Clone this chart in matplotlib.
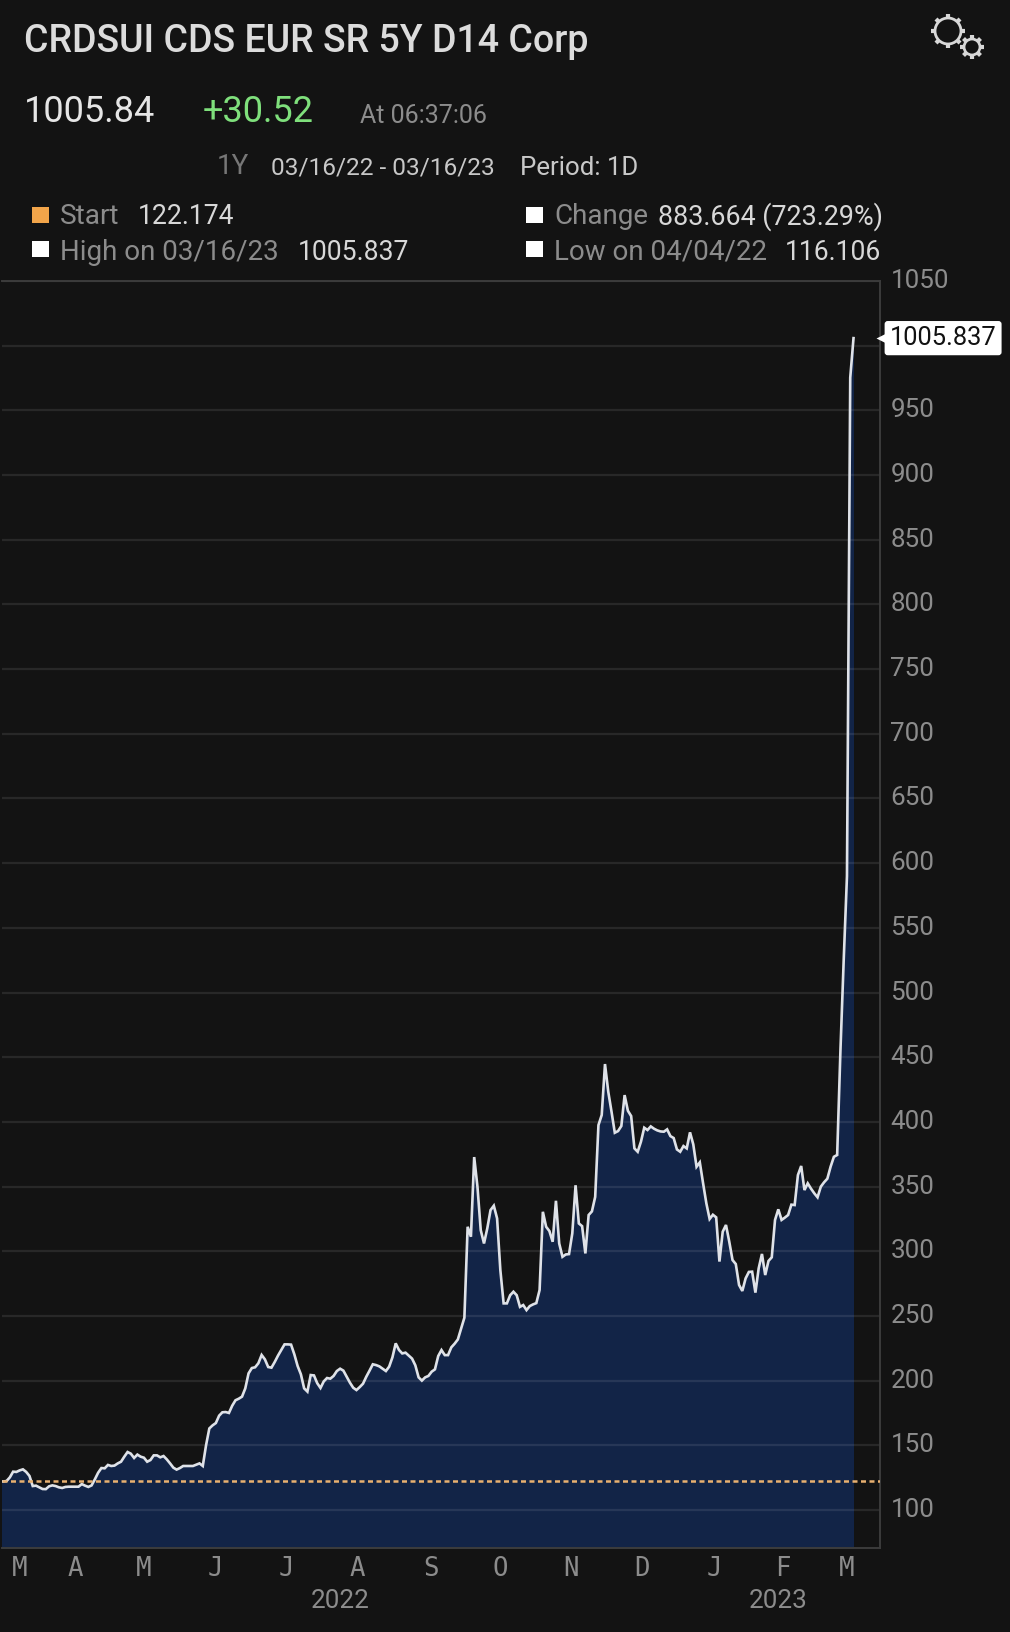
import numpy as np
import matplotlib
matplotlib.use('Agg')
import matplotlib.pyplot as plt
from matplotlib.patches import Circle, Rectangle
from matplotlib.transforms import ScaledTranslation

plt.rcParams['font.family'] = ['Roboto', 'DejaVu Sans']

# CDS spread, one value per trading session, 03/16/22 - 03/16/23
spread = [
    122.2, 122.0, 122.4, 125.2, 129.6, 129.4, 130.6, 131.4, 129.4, 126.3,
    118.5, 118.8, 117.5, 116.2, 116.1, 118.3, 119.0, 118.5, 117.5, 117.0,
    117.8, 118.0, 118.0, 118.0, 118.0, 120.0, 118.8, 117.8, 119.0, 123.7,
    128.8, 132.4, 132.2, 134.8, 134.0, 134.3, 136.0, 137.3, 141.2, 144.8,
    143.5, 140.2, 142.8, 141.2, 140.4, 137.3, 138.6, 142.2, 142.2, 140.7,
    141.7, 139.1, 136.0, 132.7, 131.2, 132.4, 134.0, 134.0, 134.0, 134.0,
    135.0, 136.0, 134.0, 150.0, 163.0, 165.4, 167.2, 172.9, 175.5, 175.7,
    175.0, 180.6, 184.8, 186.0, 187.6, 194.0, 205.6, 209.7, 210.3, 213.4,
    219.8, 216.4, 210.5, 210.0, 214.4, 219.3, 223.7, 228.0, 228.0, 227.8,
    220.3, 211.3, 204.9, 194.0, 191.5, 204.3, 204.0, 198.0, 194.3, 199.4,
    202.0, 201.5, 203.6, 207.4, 209.2, 207.7, 203.0, 198.4, 194.5, 192.7,
    195.0, 197.6, 203.0, 207.7, 212.6, 212.0, 211.0, 209.2, 207.4, 210.8,
    218.0, 228.8, 223.7, 221.0, 221.6, 219.3, 217.0, 211.8, 202.5, 200.0,
    202.5, 203.6, 206.9, 208.7, 219.0, 223.6, 219.7, 219.7, 225.7, 228.5,
    231.8, 240.3, 248.6, 318.9, 311.2, 372.8, 349.8, 316.3, 306.0, 317.6,
    331.8, 335.2, 325.4, 285.4, 259.7, 259.7, 266.0, 268.7, 266.0, 257.0,
    258.4, 254.5, 257.6, 258.9, 259.9, 270.0, 330.5, 318.9, 315.6, 307.3,
    339.0, 306.0, 295.7, 297.5, 297.8, 313.8, 351.0, 321.5, 319.4, 298.3,
    328.0, 330.8, 342.0, 397.5, 405.3, 444.7, 423.3, 407.8, 391.6, 392.9,
    396.8, 420.7, 408.6, 404.5, 379.5, 376.9, 384.7, 395.5, 393.7, 396.5,
    394.7, 393.4, 392.6, 392.4, 394.2, 389.0, 387.5, 378.7, 376.9, 381.3,
    379.5, 391.9, 382.6, 365.3, 368.7, 352.5, 337.0, 324.9, 328.2, 326.2,
    292.0, 315.1, 320.3, 307.4, 293.2, 290.1, 273.9, 269.3, 279.0, 284.0,
    284.2, 268.0, 286.8, 297.9, 281.6, 292.5, 295.3, 324.2, 332.4, 324.2,
    326.0, 328.0, 336.0, 335.7, 358.9, 365.9, 347.3, 352.5, 348.4, 344.8,
    341.7, 349.9, 353.3, 356.1, 365.4, 373.0, 374.4, 455.0, 525.0, 590.0,
    975.3, 1005.837,
]
start_value = 122.174
sessions = np.arange(len(spread))

month_labels = ['M', 'A', 'M', 'J', 'J', 'A', 'S', 'O', 'N', 'D', 'J', 'F', 'M']
month_ticks = [6.1, 22.9, 44, 65.7, 87.5, 109.2, 131.8, 152.9, 174.6, 196.3, 218.3, 239.4, 259]
year_labels = ['2022', '2023']
year_ticks = [104, 238]
y_ticks = list(range(100, 1051, 50))

W, H = 1010, 1632
BG = '#131313'
GREY = '#8c8c8c'
LIGHT = '#d8d8d8'


def px_text(x, y, s, color=LIGHT, size=19.1, ha='left', **kw):
    fig.text(x / W, 1 - y / H, s, color=color, fontsize=size, ha=ha, va='center', **kw)


fig = plt.figure(figsize=(W / 100, H / 100), dpi=100, facecolor=BG)

# chart area runs px 2-880 across, 281-1548 down
ax = fig.add_axes([2 / W, 1 - 1548 / H, 878 / W, (1548 - 281) / H], facecolor=BG)
ax.fill_between(sessions, spread, 60, color='#122447', lw=0, zorder=1)
ax.set_xlim(0.6, 269.1)
ax.set_ylim(70.6, 1050)
for v in y_ticks:
    ax.axhline(v, color='white', alpha=0.09, lw=1.6, zorder=2)
ax.plot(sessions, spread, color='#dfe2e8', lw=1.9, zorder=4, solid_joinstyle='miter')
ax.axhline(start_value, color='#e8b070', lw=1.8, dashes=(2.0, 1.4), zorder=5)

ax.spines['left'].set_visible(False)
for side in ['top', 'right', 'bottom']:
    ax.spines[side].set_color('#3c3c3c')
    ax.spines[side].set_linewidth(1.4)
ax.yaxis.tick_right()
ax.set_yticks(y_ticks)
# the price tag sits where the 1000 label would be
ax.set_yticklabels(['' if v == 1000 else str(v) for v in y_ticks], color=GREY, fontsize=18.7)
ax.tick_params(axis='y', length=0, pad=7.5)
up = ScaledTranslation(0, 2.5 / 100, fig.dpi_scale_trans)
for lab in ax.get_yticklabels():
    lab.set_transform(lab.get_transform() + up)
ax.set_xticks(month_ticks)
ax.set_xticklabels(month_labels, color=GREY, fontsize=18.5, family='DejaVu Sans Mono')
ax.tick_params(axis='x', length=0, pad=6)
for x, s in zip(year_ticks, year_labels):
    ax.annotate(s, (x, 0), xycoords=('data', 'axes fraction'), xytext=(0, -38.5),
                textcoords='offset points', color=GREY, fontsize=18.7, ha='center', va='center')

# last price tag
ax.plot([1.0125], [spread[-1]], marker='<', ms=21, color='white', mec='none',
        transform=ax.get_yaxis_transform(), clip_on=False, zorder=6)
ax.annotate(f'{spread[-1]:.3f}', (1, spread[-1]), xycoords=('axes fraction', 'data'),
            xytext=(7, 0), textcoords='offset points', color='#111111', fontsize=18.4,
            ha='left', va='center', zorder=7, annotation_clip=False,
            bbox=dict(boxstyle='round,pad=0.2,rounding_size=0.12', fc='white', ec='none'))

# header
px_text(24, 41, 'CRDSUI CDS EUR SR 5Y D14 Corp', color='#dcdcdc', size=27, weight='medium')
px_text(24, 112, '1005.84', color='#e6e6e6', size=26)
px_text(203, 112, '+30.52', color='#7fe07c', size=26)
px_text(360, 116, 'At 06:37:06', color=GREY, size=18)
px_text(217, 167, '1Y', color='#777777', size=20)
px_text(271, 168, '03/16/22 - 03/16/23', color='#c8c8c8', size=17.6)
px_text(520, 168, 'Period: 1D', color='#c8c8c8', size=18.6)

overlay = fig.add_axes([0, 0, 1, 1], facecolor='none')
overlay.set_xlim(0, W)
overlay.set_ylim(H, 0)
overlay.axis('off')
for x, y, c in [(32, 207, '#f2a54a'), (526, 207, 'white'), (32, 241, 'white'), (526, 241, 'white')]:
    overlay.add_patch(Rectangle((x, y), 17, 16, fc=c, ec='none'))

px_text(60, 217, 'Start', color=GREY, size=20.2)
px_text(138, 217, '122.174')
px_text(60, 252, 'High on 03/16/23', color=GREY, size=20)
px_text(298, 252, '1005.837')
px_text(554, 217, 'Change', color=GREY, size=20)
px_text(658, 217, '883.664 (723.29%)', size=19.4)
px_text(554, 252, 'Low on 04/04/22', color=GREY, size=20)
px_text(785, 252, '116.106')

# settings gears
for cx, cy, r, n in [(948, 31, 13, 8), (972, 47, 8, 8)]:
    overlay.add_patch(Circle((cx, cy), r, fc='none', ec='#d8d8d8', lw=2))
    for a in np.arange(n) * 2 * np.pi / n + np.pi / 2:
        overlay.plot([cx + r * np.cos(a), cx + (r + 4) * np.cos(a)],
                     [cy + r * np.sin(a), cy + (r + 4) * np.sin(a)],
                     color='#d8d8d8', lw=3, solid_capstyle='butt')

fig.savefig('out.png', dpi=100, facecolor=BG)
